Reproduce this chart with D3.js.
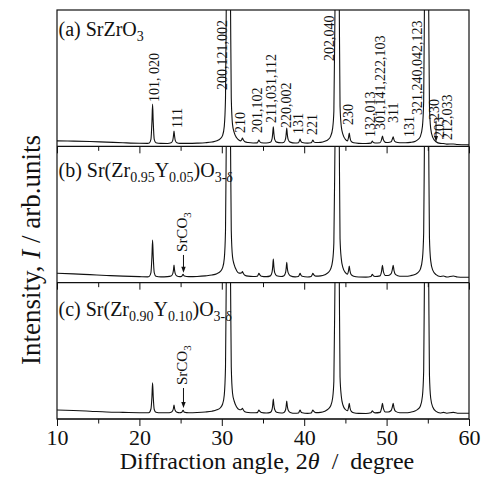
<!DOCTYPE html>
<html lang="en">
<head>
<meta charset="UTF-8">
<title>XRD patterns of SrZrO3</title>
<script src="https://d3js.org/d3.v7.min.js"></script>
<style>
    body { margin: 0; background: #fff; }
    svg text { font-family: "Liberation Serif", "Times New Roman", serif; fill: #111; }
    .tick line { stroke: #111; }
</style>
</head>
<body>
<div id="chart"></div>
<script>
// 2theta grid shared by the three patterns (degree)
const angles = [
    10, 12, 14, 16, 18, 20, 21,
    21.2, 21.4, 21.52, 21.6, 21.68, 21.8, 22.0, 22.6, 23.4,
    23.85, 24.05, 24.14, 24.2, 24.26, 24.35, 24.55, 24.9,
    25.15, 25.3, 25.45, 26, 27, 28, 28.8, 29.4, 29.8, 30.1,
    30.3, 30.45, 30.55, 30.8, 31.05, 31.15, 31.3, 31.5, 31.8, 32.1, 32.3,
    32.42, 32.5, 32.6, 32.8, 33.2, 33.8,
    34.3, 34.42, 34.5, 34.6, 34.8, 35.4,
    35.9, 36.1, 36.18, 36.25, 36.32, 36.42, 36.65, 37.2,
    37.55, 37.75, 37.82, 37.88, 37.95, 38.05, 38.3, 38.9,
    39.3, 39.42, 39.5, 39.58, 39.75, 40.4,
    40.85, 40.97, 41.05, 41.15, 41.4, 42, 42.5, 42.9, 43.2, 43.45, 43.6, 43.75, 44.0, 44.25, 44.35, 44.5, 44.7, 45.0,
    45.25, 45.38, 45.47, 45.55, 45.7, 46.0, 46.6, 47.5,
    48.1, 48.2, 48.27, 48.35, 48.6,
    49.2, 49.38, 49.5, 49.6, 49.85, 50.2,
    50.55, 50.68, 50.8, 50.9, 51.1, 51.6, 52.3, 52.9,
    53.5, 53.8, 54.1, 54.35, 54.5, 54.6, 54.85, 55.1, 55.2, 55.35, 55.6, 56.0, 56.5,
    56.9, 57.3, 58.1, 58.6, 59.3, 60
];

// intensities (arb. units, full panel = 136)
const intensityA = [
    5.5, 5.2, 4.8, 4.2, 3.6, 3.1, 3.0,
    3.4, 7, 24, 42.3, 24, 7, 3.6, 3.0, 2.9,
    3.6, 6, 11, 15.3, 11, 6, 3.6, 3.0,
    3.0, 3.0, 3.0, 3.0, 3.2, 3.6, 4.3, 5.5, 7.5, 11,
    20, 48, 150, 300, 150, 48, 22, 14, 8.5, 6, 5.5,
    6.8, 8.3, 6.5, 4.6, 3.8, 3.4,
    3.5, 5, 6.3, 4.8, 3.6, 3.3,
    4.0, 7.5, 13, 19.6, 13, 7, 4.2, 3.6,
    4.2, 8, 13, 18.3, 12, 7, 4.2, 3.3,
    3.6, 5.5, 7.3, 5.3, 3.8, 3.2,
    3.6, 5, 6.3, 4.8, 3.8, 4, 5, 6.8, 10, 18, 35, 150, 300, 150, 40, 20, 12, 7,
    5.5, 9, 13.3, 9, 5, 3.6, 3.0, 2.8,
    3.2, 4.4, 5.3, 4.2, 3.3,
    3.6, 6.5, 10.3, 6.8, 4.0, 3.8,
    4.5, 6.8, 9.6, 6.5, 4.3, 3.6, 3.6, 4.0,
    5.2, 6.8, 10, 20, 45, 150, 300, 150, 40, 18, 9, 4.6, 3.0,
    2.8, 2.2, 2.4, 1.8, 1.6, 1.5
];
const intensityB = [
    9.4, 8.8, 8.0, 7.2, 6.5, 6.0, 5.8,
    6.3, 10, 26, 42.7, 26, 10, 6.5, 5.8, 6.0,
    6.6, 9, 13, 17.7, 13, 9, 6.6, 6.0,
    6.5, 8.3, 6.6, 6.0, 6.2, 6.8, 7.6, 9, 11, 15,
    24, 52, 150, 300, 150, 52, 26, 18, 12, 9.5, 9.5,
    10, 11, 9.5, 7.5, 6.5, 6.2,
    6.4, 8, 9.4, 8, 6.5, 6.0,
    6.8, 10.5, 16, 23.7, 16, 10, 7, 6.2,
    7, 10.5, 15, 20.4, 14.5, 10, 7, 5.8,
    6.2, 8, 9.4, 8, 6.4, 5.7,
    6.2, 8, 9.4, 8, 6.5, 6.8, 8, 10, 13.5, 22, 40, 150, 300, 150, 44, 24, 15, 10,
    8.5, 12, 16.7, 12, 8, 6.4, 5.6, 5.5,
    6.2, 7.5, 8.4, 7.4, 6.2,
    6.8, 11, 17.4, 11.5, 7.2, 7.2,
    9, 12.5, 17.4, 12, 8, 6.4, 6.4, 7,
    8.5, 10, 13.5, 24, 50, 150, 300, 150, 45, 22, 12.5, 8, 6.2,
    6.7, 5.6, 6.7, 5.6, 5.4, 5.4
];
const intensityC = [
    9.0, 8.5, 7.8, 7.0, 6.6, 6.3, 6.2,
    6.6, 10, 22, 36.3, 22, 9.5, 6.8, 6.2, 6.2,
    6.8, 8.5, 11, 14, 11, 8.5, 6.8, 6.3,
    6.8, 8.8, 6.8, 6.3, 6.5, 7.0, 7.8, 9.2, 11, 15,
    24, 52, 150, 300, 150, 52, 26, 18, 12, 9.5, 9.3,
    9.8, 10.7, 9.2, 7.3, 6.5, 6.2,
    6.4, 7.8, 9, 7.8, 6.5, 6.0,
    6.6, 9.5, 14, 20, 14, 9.5, 6.8, 6.0,
    6.6, 9.5, 13.5, 18, 13, 9, 6.6, 5.7,
    6.0, 7.8, 9, 7.6, 6.2, 5.6,
    6.0, 7.8, 9, 7.8, 6.4, 6.6, 7.8, 9.8, 13, 21, 38, 150, 300, 150, 42, 23, 14, 9.5,
    8.2, 11.5, 15.7, 11.5, 7.8, 6.2, 5.6, 5.5,
    6.2, 7.4, 8.3, 7.3, 6.1,
    6.6, 10.5, 15.7, 10.8, 7.0, 7.0,
    8.5, 11.5, 15.7, 11, 7.6, 6.2, 6.2, 6.8,
    8.2, 9.8, 13, 23, 48, 150, 300, 150, 44, 21, 12, 7.6, 6.0,
    6.6, 5.8, 6.6, 5.8, 5.7, 5.7
];

// hkl labels of panel (a): text, 2theta, starting level (arb. units)
const hklText  = ["101, 020", "111", "200,121,002", "210", "201,102", "211,031,112", "220,002", "131", "221",
                  "202,040", "230", "132,013", "301,141,222,103", "311", "131", "321,240,042,123", "230", "203", "212,033"];
const hklAngle = [21.85, 24.6, 30.0, 32.25, 34.33, 36.0, 37.77, 39.25, 40.95,
                  43.07, 45.38, 48.03, 49.24, 50.84, 52.78, 53.67, 55.75, 56.42, 57.33];
const hklLevel = [44.3, 18.3, 56.3, 13.3, 13.3, 23.3, 18.3, 12.3, 11.3,
                  85.3, 21.3, 9.3, 16.3, 23.3, 9.3, 31.3, 26.3, 8.3, 6.3];

// panel titles as [text, subscript?]
const panelTitles = [
    [["(a) SrZrO", 0], ["3", 1]],
    [["(b) Sr(Zr", 0], ["0.95", 1], ["Y", 0], ["0.05", 1], [")O", 0], ["3-\u03b4", 1]],
    [["(c) Sr(Zr", 0], ["0.90", 1], ["Y", 0], ["0.10", 1], [")O", 0], ["3-\u03b4", 1]]
];
const majorTicks = [10, 20, 30, 40, 50, 60];
const minorTicks = [15, 25, 35, 45, 55];

const W = 481, H = 489;
const margin = { top: 10, right: 12, bottom: 70, left: 57 };
const plotBottom = H - margin.bottom;
const panelH = (plotBottom - margin.top) / 3;

const svg = d3.select("#chart").append("svg")
    .attr("width", W).attr("height", H);

const x = d3.scaleLinear().domain([10, 60]).range([margin.left, W - margin.right]);

const series = [intensityA, intensityB, intensityC];

series.forEach((vals, i) => {
    const top = margin.top + i * panelH;
    const y = d3.scaleLinear().domain([0, panelH]).range([top + panelH, top]);

    svg.append("clipPath").attr("id", "clip" + i)
        .append("rect")
        .attr("x", x(10)).attr("y", top)
        .attr("width", x(60) - x(10)).attr("height", panelH);

    const pts = angles.map((a, k) => [a, vals[k]]);
    const line = d3.line().x(d => x(d[0])).y(d => y(d[1])).curve(d3.curveMonotoneX);

    svg.append("path")
        .datum(pts)
        .attr("clip-path", `url(#clip${i})`)
        .attr("fill", "none")
        .attr("stroke", "#111")
        .attr("stroke-width", 1.1)
        .attr("d", line);

    // ticks pointing down from each panel bottom
    const major = svg.append("g")
        .attr("transform", `translate(0,${top + panelH})`)
        .call(d3.axisBottom(x).tickValues(majorTicks).tickSize(7).tickSizeOuter(0)
            .tickFormat(i === 2 ? d3.format("d") : () => ""));
    major.select(".domain").remove();
    major.selectAll("text").attr("font-size", 22)
        .style("font-family", "'Liberation Serif', serif").attr("fill", "#111");

    const minor = svg.append("g")
        .attr("transform", `translate(0,${top + panelH})`)
        .call(d3.axisBottom(x).tickValues(minorTicks).tickSize(4.5).tickFormat(() => ""));
    minor.select(".domain").remove();

    // panel bottom line
    svg.append("line")
        .attr("x1", x(10)).attr("x2", x(60))
        .attr("y1", top + panelH).attr("y2", top + panelH)
        .attr("stroke", "#111").attr("stroke-width", 1.2);

    // title
    const titleY = [26, 30.5, 33][i];
    const t = svg.append("text")
        .attr("x", x(10) + 1.5)
        .attr("y", top + titleY)
        .attr("font-size", 20);
    let shifted = false;
    panelTitles[i].forEach(([s, sub]) => {
        const ts = t.append("tspan").text(s);
        if (sub && !shifted) { ts.attr("dy", 5).attr("font-size", 14); shifted = true; }
        else if (sub) { ts.attr("font-size", 14); }
        else if (shifted) { ts.attr("dy", -5); shifted = false; }
    });

    // SrCO3 marker in (b) and (c)
    if (i > 0) {
        const lx = x(25.2) + 5;
        const ly = y(i === 1 ? 30.7 : 34);
        const lab = svg.append("text")
            .attr("transform", `translate(${lx},${ly}) rotate(-90)`)
            .attr("font-size", 15);
        lab.append("tspan").text("SrCO");
        lab.append("tspan").text("3").attr("font-size", 11).attr("dy", 4);

        const ax = x(25.35);
        const y0 = y(i === 1 ? 27.7 : 31), y1 = y(i === 1 ? 10 : 11);
        svg.append("line").attr("x1", ax).attr("x2", ax).attr("y1", y0).attr("y2", y1 - 5)
            .attr("stroke", "#111").attr("stroke-width", 1);
        svg.append("path")
            .attr("d", `M${ax - 2.2},${y1 - 6} L${ax + 2.2},${y1 - 6} L${ax},${y1} Z`)
            .attr("fill", "#111");
    }

    if (i === 0) {
        hklText.forEach((s, k) => {
            svg.append("text")
                .attr("transform", `translate(${x(hklAngle[k]) + 4.8},${y(hklLevel[k])}) rotate(-90)`)
                .attr("font-size", 14)
                .text(s);
        });
        // arrow under the second 230
        const ax = x(56.0);
        const y0 = y(25.5), y1 = y(4.3);
        svg.append("line").attr("x1", ax).attr("x2", ax).attr("y1", y0).attr("y2", y1 - 5)
            .attr("stroke", "#111").attr("stroke-width", 1);
        svg.append("path")
            .attr("d", `M${ax - 2},${y1 - 6} L${ax + 2},${y1 - 6} L${ax},${y1} Z`)
            .attr("fill", "#111");
    }
});

// outer frame
svg.append("rect")
    .attr("x", x(10)).attr("y", margin.top)
    .attr("width", x(60) - x(10)).attr("height", plotBottom - margin.top)
    .attr("fill", "none").attr("stroke", "#111").attr("stroke-width", 1.2);

// axis titles
const xt = svg.append("text")
    .attr("x", (x(10) + x(60)) / 2 + 4)
    .attr("y", plotBottom + 50)
    .attr("text-anchor", "middle")
    .attr("font-size", 24)
    .attr("xml:space", "preserve");
xt.append("tspan").text("Diffraction angle, 2");
xt.append("tspan").text("\u03b8").attr("font-style", "italic");
xt.append("tspan").text("  /  degree");

const yt = svg.append("text")
    .attr("transform", `translate(40,250) rotate(-90)`)
    .attr("text-anchor", "middle")
    .attr("font-size", 27);
yt.append("tspan").text("Intensity, ");
yt.append("tspan").text("I").attr("font-style", "italic");
yt.append("tspan").text(" / arb.units");
</script>
</body>
</html>
